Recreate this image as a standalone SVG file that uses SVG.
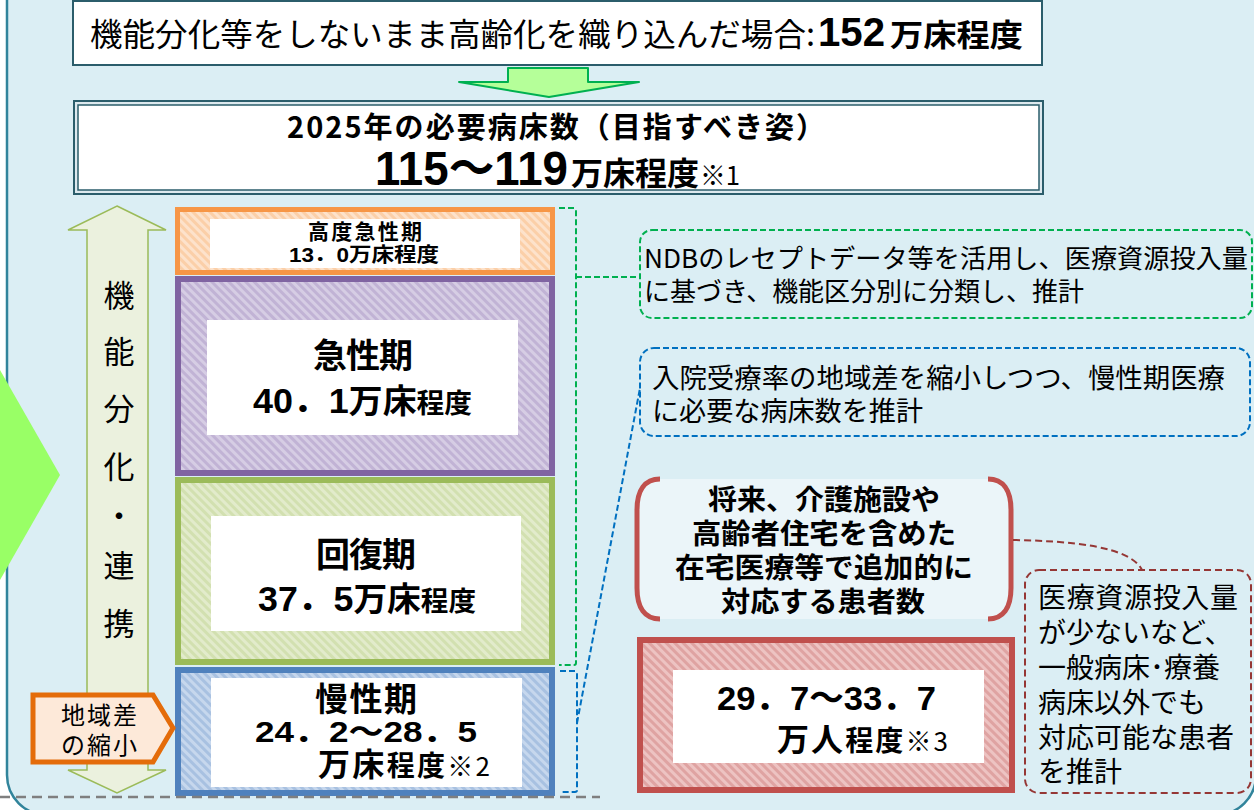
<svg xmlns="http://www.w3.org/2000/svg" width="1254" height="810" viewBox="0 0 1254 810">
<defs>
<style>
.jp{font-family:"Noto Sans CJK JP","Liberation Sans",sans-serif;fill:#000}
.num{font-family:"Liberation Sans","Noto Sans CJK JP",sans-serif;fill:#000}
.b{font-weight:bold}
.n{font-weight:normal}
.white{fill:#fff}
.dash-g{fill:none;stroke:#00b050;stroke-width:2;stroke-dasharray:6 3}
.dash-b{fill:none;stroke:#0070c0;stroke-width:2;stroke-dasharray:6 3}
.dash-r{fill:none;stroke:#953735;stroke-width:2;stroke-dasharray:7 4}
</style>
<pattern id="hO" width="6" height="6" patternUnits="userSpaceOnUse" patternTransform="rotate(-45)"><rect width="6" height="6" fill="#fbcfa8"/><rect width="3" height="6" fill="#fde2cb"/></pattern>
<pattern id="hP" width="6" height="6" patternUnits="userSpaceOnUse" patternTransform="rotate(-45)"><rect width="6" height="6" fill="#c1b3d5"/><rect width="3" height="6" fill="#d6cde4"/></pattern>
<pattern id="hG" width="6" height="6" patternUnits="userSpaceOnUse" patternTransform="rotate(-45)"><rect width="6" height="6" fill="#d2e0b0"/><rect width="3" height="6" fill="#e2ebcb"/></pattern>
<pattern id="hB" width="6" height="6" patternUnits="userSpaceOnUse" patternTransform="rotate(-45)"><rect width="6" height="6" fill="#a8c1e1"/><rect width="3" height="6" fill="#c6d7ed"/></pattern>
<pattern id="hR" width="6" height="6" patternUnits="userSpaceOnUse" patternTransform="rotate(-45)"><rect width="6" height="6" fill="#dfa3a2"/><rect width="3" height="6" fill="#edc3c2"/></pattern>
</defs>
<rect width="1254" height="810" fill="#fff"/>
<g id="frame">
<rect x="7" y="-50" width="1249" height="865" rx="40" fill="#dbeef4" stroke="#31849b" stroke-width="2.5"/>
</g>
<g id="chevron">
<polygon points="0,370 60,475 0,580" fill="#99ff66"/>
</g>
<g id="top-box">
<rect x="73" y="1" width="969" height="64" fill="#fff" stroke="#2b5d6b" stroke-width="2"/>
<text class="jp n" x="90" y="46" font-size="32" textLength="725" lengthAdjust="spacingAndGlyphs">機能分化等をしないまま高齢化を織り込んだ場合:</text>
<text class="num b" x="818" y="46" font-size="40" textLength="67" lengthAdjust="spacingAndGlyphs">152</text>
<text class="jp b" x="890" y="46" font-size="31" textLength="133" lengthAdjust="spacingAndGlyphs">万床程度</text>
</g>
<g id="down-arrow">
<polygon points="508,68 588,68 588,82 639,82 549,97 459,82 508,82" fill="#b5ff99" stroke="#00b050" stroke-width="2" stroke-linejoin="round"/>
</g>
<g id="target-box">
<rect x="74" y="101" width="969" height="93" fill="#dde9ee" stroke="#2b5d6b" stroke-width="2"/>
<rect x="78" y="105" width="961" height="85" fill="#fff" stroke="#2b5d6b" stroke-width="1.5"/>
<text class="jp b" x="287" y="138" font-size="29" textLength="538" lengthAdjust="spacing">2025年の必要病床数（目指すべき姿）</text>
<text class="num b" x="375" y="185" font-size="48" textLength="193" lengthAdjust="spacingAndGlyphs">115～119</text>
<text class="jp b" x="571" y="185" font-size="32" textLength="128" lengthAdjust="spacingAndGlyphs">万床程度</text>
<text class="jp n" x="700" y="185" font-size="26" textLength="40" lengthAdjust="spacingAndGlyphs">※1</text>
</g>
<g id="axis-arrow">
<polygon points="117,206 166,230 148,230 148,770 166,770 117,793 68,770 87,770 87,230 68,230" fill="#ebf1de" stroke="#9bbb59" stroke-width="1.5"/>
<g class="jp n" font-size="31" text-anchor="middle">
<text x="119" y="307">機</text>
<text x="119" y="363">能</text>
<text x="119" y="420">分</text>
<text x="119" y="478">化</text>
<text x="119" y="527">・</text>
<text x="119" y="577">連</text>
<text x="119" y="635">携</text>
</g>
</g>
<g id="node-high-acute">
<rect x="177.5" y="209.5" width="375" height="63" fill="url(#hO)" stroke="#f79646" stroke-width="5"/>
<rect class="white" x="210" y="219" width="310" height="49"/>
<text class="jp b" x="308" y="239" font-size="21" textLength="114" lengthAdjust="spacing">高度急性期</text>
<text class="num b" x="289" y="262" font-size="20" textLength="150" lengthAdjust="spacingAndGlyphs">13．0<tspan class="jp">万床程度</tspan></text>
</g>
<g id="node-acute">
<rect x="178" y="279" width="374" height="194" fill="url(#hP)" stroke="#8064a2" stroke-width="6"/>
<rect class="white" x="207" y="320" width="311" height="115"/>
<text class="jp b" x="313" y="368" font-size="34" textLength="100" lengthAdjust="spacing">急性期</text>
<text class="num b" x="253" y="413" font-size="35" textLength="219" lengthAdjust="spacingAndGlyphs">40．1<tspan class="jp" font-size="33">万床</tspan><tspan class="jp" font-size="27">程度</tspan></text>
</g>
<g id="node-recovery">
<rect x="178" y="480" width="374" height="182" fill="url(#hG)" stroke="#9bbb59" stroke-width="6"/>
<rect class="white" x="211" y="516" width="310" height="115"/>
<text class="jp b" x="316" y="567" font-size="34" textLength="100" lengthAdjust="spacing">回復期</text>
<text class="num b" x="258" y="611" font-size="35" textLength="218" lengthAdjust="spacingAndGlyphs">37．5<tspan class="jp" font-size="33">万床</tspan><tspan class="jp" font-size="27">程度</tspan></text>
</g>
<g id="node-chronic">
<rect x="178" y="670" width="374" height="123" fill="url(#hB)" stroke="#4f81bd" stroke-width="6"/>
<rect class="white" x="211" y="678" width="311" height="109"/>
<text class="jp b" x="315" y="711" font-size="33" textLength="102" lengthAdjust="spacing">慢性期</text>
<text class="num b" x="255" y="742" font-size="30" textLength="222" lengthAdjust="spacingAndGlyphs">24．2～28．5</text>
<text class="jp b" x="318" y="776" font-size="32" textLength="172" lengthAdjust="spacing">万床<tspan font-size="28">程度</tspan><tspan class="n" font-size="26">※2</tspan></text>
</g>
<g id="node-regional">
<polygon points="33,695 153,695 173,728 153,762 33,762" fill="#fde9d9" stroke="#e46c0a" stroke-width="5"/>
<text class="jp n" x="99" y="724" font-size="24" text-anchor="middle" textLength="76" lengthAdjust="spacing">地域差</text>
<text class="jp n" x="99" y="754" font-size="24" text-anchor="middle" textLength="76" lengthAdjust="spacing">の縮小</text>
</g>
<g id="note-ndb">
<rect class="dash-g" x="640" y="230" width="612" height="88" rx="12" stroke-width="2.5"/>
<text class="jp n" x="644" y="268" font-size="26" textLength="604" lengthAdjust="spacingAndGlyphs">NDBのレセプトデータ等を活用し、医療資源投入量</text>
<text class="jp n" x="644" y="301" font-size="26" textLength="440" lengthAdjust="spacingAndGlyphs">に基づき、機能区分別に分類し、推計</text>
</g>
<g id="note-chronic">
<rect class="dash-b" x="640" y="348" width="610" height="88" rx="14" stroke-width="2.5"/>
<text class="jp n" x="652" y="388" font-size="27" textLength="573" lengthAdjust="spacingAndGlyphs">入院受療率の地域差を縮小しつつ、慢性期医療</text>
<text class="jp n" x="652" y="421" font-size="27" textLength="271" lengthAdjust="spacingAndGlyphs">に必要な病床数を推計</text>
</g>
<g id="node-home-care">
<rect x="637" y="479" width="374" height="140" rx="22" fill="#ebf5f9"/>
<path d="M660,479 C645,479 637,490 637,510 L637,588 C637,608 645,619 660,619" fill="none" stroke="#c0504d" stroke-width="5"/>
<path d="M988,479 C1003,479 1011,490 1011,510 L1011,588 C1011,608 1003,619 988,619" fill="none" stroke="#c0504d" stroke-width="5"/>
<g class="jp b" font-size="28" text-anchor="middle">
<text x="824" y="510" textLength="232" lengthAdjust="spacingAndGlyphs">将来、介護施設や</text>
<text x="824" y="544" textLength="264" lengthAdjust="spacingAndGlyphs">高齢者住宅を含めた</text>
<text x="824" y="578" textLength="298" lengthAdjust="spacingAndGlyphs">在宅医療等で追加的に</text>
<text x="823" y="612" textLength="204" lengthAdjust="spacingAndGlyphs">対応する患者数</text>
</g>
</g>
<g id="node-home-care-count">
<rect x="640" y="640" width="372" height="150" fill="url(#hR)" stroke="#c0504d" stroke-width="6"/>
<rect class="white" x="673" y="670" width="311" height="93"/>
<text class="num b" x="717" y="710" font-size="34" textLength="219" lengthAdjust="spacingAndGlyphs">29．7～33．7</text>
<text class="jp b" x="777" y="751" font-size="32" textLength="171" lengthAdjust="spacing">万人<tspan font-size="28">程度</tspan><tspan class="n" font-size="26">※3</tspan></text>
</g>
<g id="note-other">
<rect class="dash-r" x="1025" y="570" width="226" height="223" rx="14"/>
<g class="jp n" font-size="28">
<text x="1038" y="608" textLength="200" lengthAdjust="spacing">医療資源投入量</text>
<text x="1038" y="643">が少ないなど、</text>
<text x="1038" y="678">一般病床･療養</text>
<text x="1038" y="713">病床以外でも</text>
<text x="1038" y="748">対応可能な患者</text>
<text x="1038" y="782">を推計</text>
</g>
</g>
<g id="connectors">
<path class="dash-g" d="M559,208 L574,208 Q576,208 576,210 L576,663 Q576,665 574,665 L559,665"/>
<path class="dash-g" d="M576,277 L640,277"/>
<path class="dash-b" d="M560,671 L575,671 Q577,671 577,673 L577,790 Q577,792 575,792 L560,792"/>
<path class="dash-b" d="M577,723 L640,388"/>
<path class="dash-r" d="M1013,540 C1070,541 1130,546 1142,570"/>
<path d="M0,797 L600,797" fill="none" stroke="#7f7f7f" stroke-width="2.5" stroke-dasharray="10 6"/>
</g>
</svg>
